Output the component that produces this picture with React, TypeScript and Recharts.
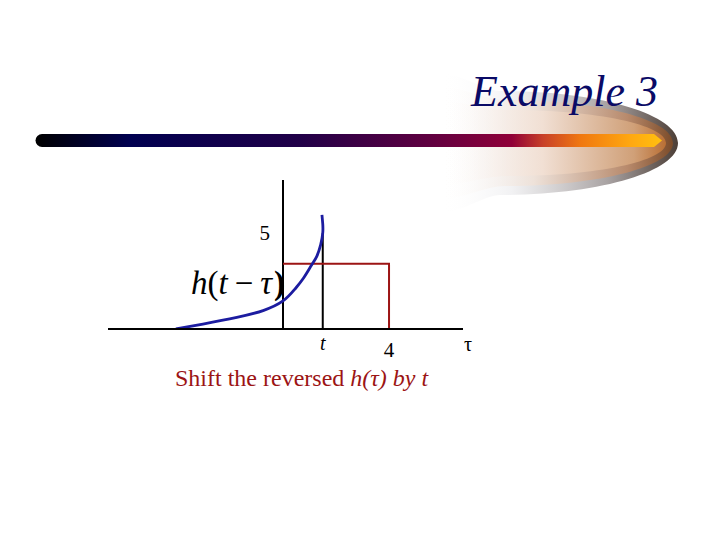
import {
  ComposedChart,
  Line,
  XAxis,
  YAxis,
  ReferenceLine,
  ReferenceDot,
  Label,
} from "recharts";

// h(t - tau): the reversed impulse response shifted by t
const CURVE_TAU = [-4.04, -3.02, -1.74, -0.75, 0, 0.45, 0.77, 1.08, 1.27, 1.42, 1.5, 1.5, 1.47];
const CURVE_VALUE = [0, 0.26, 0.61, 0.96, 1.46, 2.08, 2.64, 3.33, 3.77, 4.38, 5.0, 5.47, 5.94];

// x(tau): the rectangular pulse from 0 to 4
const PULSE_TAU = [0, 4, 4];
const PULSE_VALUE = [3.4, 3.4, 0];

const T_SHIFT = 1.5;
const T_LINE_TOP = 5;
const X_TICKS = [T_SHIFT, 4];
const X_DOMAIN = [-6.6, 6.79];
const Y_DOMAIN = [0, 7.76];

const curveData = CURVE_TAU.map((tau, i) => ({ tau, h: CURVE_VALUE[i] }));
const pulseData = PULSE_TAU.map((tau, i) => ({ tau, x: PULSE_VALUE[i] }));

const SERIF = "'Liberation Serif', 'Times New Roman', serif";
const DARK_RED = "#9c1414";

function TickLabel(props: any) {
  const { x, y, payload } = props;
  const isT = payload.value === T_SHIFT;
  return (
    <text
      x={x}
      y={y + (isT ? 21 : 28)}
      textAnchor="middle"
      style={{ fontFamily: SERIF, fontSize: isT ? 20 : 21, fontStyle: isT ? "italic" : "normal" }}
      fill="#000"
    >
      {isT ? "t" : payload.value}
    </text>
  );
}

function TauLabel(props: any) {
  const { viewBox } = props;
  return (
    <text
      x={viewBox.x + viewBox.width + 1}
      y={351}
      style={{ fontFamily: SERIF, fontSize: 20 }}
      fill="#000"
    >
      τ
    </text>
  );
}

function FiveLabel(props: any) {
  const { viewBox } = props;
  return (
    <text
      x={viewBox.x - 13}
      y={viewBox.y + 7}
      textAnchor="end"
      style={{ fontFamily: SERIF, fontSize: 21 }}
      fill="#000"
    >
      5
    </text>
  );
}

// half-ellipse swoosh with a fading tail to the left
function swoosh(cx: number, cy: number, rx: number, ry: number, spread: number) {
  const k = 0.5523;
  const top = cy - ry;
  const bot = cy + ry;
  const tip = cx + rx;
  return (
    `M440,${top - spread} C465,${top - spread + 2} 485,${top} ${cx},${top} ` +
    `C${cx + k * rx},${top} ${tip},${cy - k * ry} ${tip},${cy} ` +
    `C${tip},${cy + k * ry} ${cx + k * rx},${bot} ${cx},${bot} ` +
    `C485,${bot} 465,${bot + spread - 2} 440,${bot + spread} Z`
  );
}

function Decoration() {
  return (
    <svg width={720} height={540} style={{ position: "absolute", left: 0, top: 0 }}>
      <defs>
        <linearGradient id="swOuter" x1="440" y1="0" x2="680" y2="0" gradientUnits="userSpaceOnUse">
          <stop offset="0" stopColor="#ffffff" stopOpacity="0" />
          <stop offset="0.3" stopColor="#eeeef0" stopOpacity="0.8" />
          <stop offset="0.7" stopColor="#a8a2a2" />
          <stop offset="1" stopColor="#4a3c34" />
        </linearGradient>
        <linearGradient id="swMid" x1="440" y1="0" x2="674" y2="0" gradientUnits="userSpaceOnUse">
          <stop offset="0" stopColor="#ffffff" stopOpacity="0" />
          <stop offset="0.4" stopColor="#f0e2d8" stopOpacity="0.85" />
          <stop offset="0.8" stopColor="#b88a6c" />
          <stop offset="1" stopColor="#7a4a28" />
        </linearGradient>
        <linearGradient id="swInner" x1="440" y1="0" x2="668" y2="0" gradientUnits="userSpaceOnUse">
          <stop offset="0" stopColor="#ffffff" stopOpacity="0" />
          <stop offset="0.45" stopColor="#f2e0d4" stopOpacity="0.9" />
          <stop offset="0.85" stopColor="#d0a078" />
          <stop offset="1" stopColor="#b86c30" />
        </linearGradient>
        <linearGradient id="bar" x1="36" y1="0" x2="662" y2="0" gradientUnits="userSpaceOnUse">
          <stop offset="0" stopColor="#000000" />
          <stop offset="0.15" stopColor="#000050" />
          <stop offset="0.42" stopColor="#200048" />
          <stop offset="0.63" stopColor="#600040" />
          <stop offset="0.76" stopColor="#900038" />
          <stop offset="0.81" stopColor="#c84028" />
          <stop offset="0.87" stopColor="#f07810" />
          <stop offset="0.95" stopColor="#ffa810" />
          <stop offset="1" stopColor="#ffc010" />
        </linearGradient>
      </defs>
      <path d={swoosh(500, 143, 178, 52, 18)} fill="url(#swOuter)" />
      <path d={swoosh(505, 143, 168, 43, 14)} fill="url(#swMid)" />
      <path d={swoosh(510, 143, 156, 33, 10)} fill="url(#swInner)" />
      <path d="M42,134 H654 L662,140.5 L654,147 H42 A6.5,6.5 0 0 1 42,134 Z" fill="url(#bar)" />
      <text
        x={658}
        y={106}
        textAnchor="end"
        style={{ fontFamily: SERIF, fontStyle: "italic", fontSize: 44 }}
        fill="#0a0a66"
      >
        Example 3
      </text>
    </svg>
  );
}

function Annotations() {
  return (
    <svg
      width={720}
      height={540}
      style={{ position: "absolute", left: 0, top: 0, pointerEvents: "none" }}
    >
      <text x={191} y={294} style={{ fontFamily: SERIF, fontSize: 33 }} fill="#000">
        <tspan fontStyle="italic">h</tspan>
        <tspan>(</tspan>
        <tspan fontStyle="italic">t</tspan>
        <tspan dx={7}>−</tspan>
        <tspan dx={7} fontStyle="italic">τ</tspan>
        <tspan dx={2} fontWeight="bold">)</tspan>
      </text>
      <text x={175} y={386} style={{ fontFamily: SERIF, fontSize: 24 }} fill={DARK_RED}>
        Shift the reversed <tspan fontStyle="italic">h(τ) by t</tspan>
      </text>
    </svg>
  );
}

export default function App() {
  return (
    <div
      style={{
        position: "absolute",
        left: 0,
        top: 0,
        width: 720,
        height: 540,
        background: "#fff",
      }}
    >
      <Decoration />
      <div style={{ position: "absolute", left: 0, top: 0 }}>
        <ComposedChart
          width={720}
          height={540}
          margin={{ top: 180, right: 257, bottom: 181, left: 108 }}
        >
          <XAxis
            dataKey="tau"
            type="number"
            domain={X_DOMAIN}
            ticks={X_TICKS}
            allowDataOverflow
            tickLine={false}
            tickSize={0}
            tickMargin={0}
            axisLine={{ stroke: "#000", strokeWidth: 2 }}
            tick={<TickLabel />}
            height={30}
          >
            <Label content={<TauLabel />} position="right" />
          </XAxis>
          <YAxis type="number" domain={Y_DOMAIN} hide allowDataOverflow />
          <ReferenceLine x={0} stroke="#000" strokeWidth={2} />
          <ReferenceLine
            segment={[
              { x: T_SHIFT, y: 0 },
              { x: T_SHIFT, y: T_LINE_TOP },
            ]}
            stroke="#000"
            strokeWidth={2}
          />
          <ReferenceDot
            x={0}
            y={5}
            r={0}
            fill="none"
            stroke="none"
            label={<FiveLabel />}
          />
          <Line
            data={pulseData}
            dataKey="x"
            type="linear"
            stroke={DARK_RED}
            strokeWidth={2}
            dot={false}
            isAnimationActive={false}
          />
          <Line
            data={curveData}
            dataKey="h"
            type="natural"
            stroke="#1c1ca0"
            strokeWidth={2.8}
            dot={false}
            isAnimationActive={false}
          />
        </ComposedChart>
      </div>
      <Annotations />
    </div>
  );
}
